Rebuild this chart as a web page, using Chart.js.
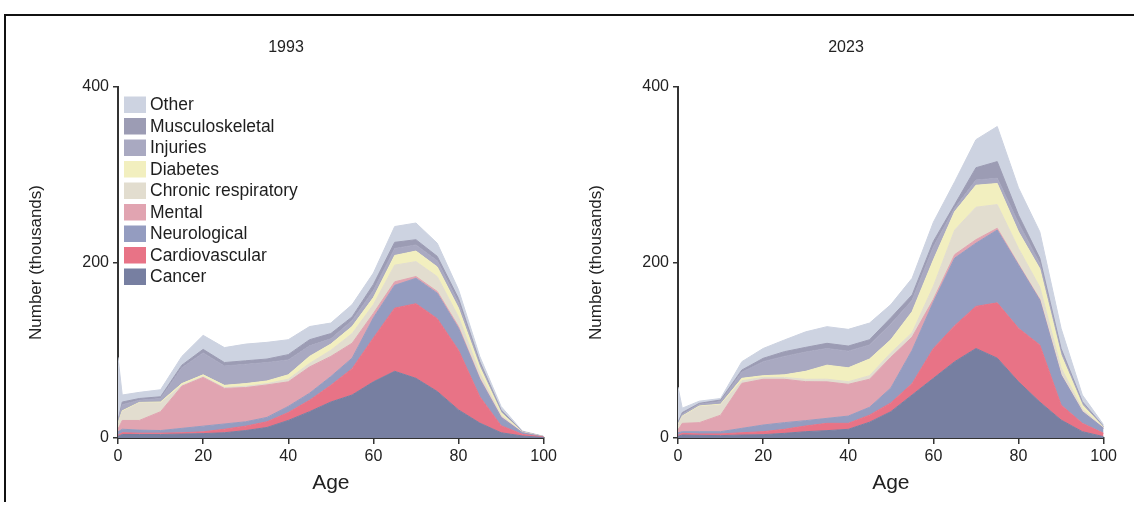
<!DOCTYPE html>
<html><head><meta charset="utf-8">
<script src="https://cdn.jsdelivr.net/npm/chart.js@4.4.1/dist/chart.umd.min.js"></script>
<style>
html,body{margin:0;padding:0;background:#fff;width:1134px;height:505px;overflow:hidden;}
#frame{position:absolute;left:4px;top:14px;width:1130px;height:486px;border-top:2px solid #111;border-left:2px solid #111;}
.wrap{position:absolute;top:25px;width:534px;height:480px;}
</style></head><body>
<div id="frame"></div>
<div class="wrap" style="left:26px"><canvas id="c1" width="534" height="480"></canvas></div>
<div class="wrap" style="left:586px"><canvas id="c2" width="534" height="480"></canvas></div>
<script>
const ages = [0,1,5,10,15,20,25,30,35,40,45,50,55,60,65,70,75,80,85,90,95,100];
const seriesNames = ['Cancer','Cardiovascular','Neurological','Mental','Chronic respiratory','Diabetes','Injuries','Musculoskeletal','Other'];
const seriesColors = ['#777fa1','#e87386','#949cc0','#e1a4b1','#e2ddcf','#f2efbf','#a9a9c1','#9c9cb4','#cdd3e1'];
const xTicks = [0,20,40,60,80,100];
const yTicks = [0,200,400];
const panelTitles = ['1993','2023'];

// 1993 (thousands)
const cancer1993   = [2,4,4,4,4.5,5,6,8.5,12,20,30,41,49,64,76,68,53,32,17,6,2.3,0.5];
const cardio1993   = [1,2,1.5,1.5,1.5,2,4,5,6.5,9,13,19,30,50,72,85,83,68,30,8,1.9,0.5];
const neuro1993    = [4,4,3.5,3,5,6.5,6,5,5,7,8,10,12,23,26,29,29,25,20,9.5,1.8,0.2];
const mental1993   = [3,10,11,21.5,48,55.5,40.5,39,37,28,30,23,17,5,4,2,2,2,1,0.5,0.2,0.1];
const chronic1993  = [6,10,20,10,1,1,1,1.5,1.5,3,4,7,11,10,19,17,17,11,6,2,0.3,0.1];
const diabetes1993 = [0.5,1,0.5,1,2,2,2.5,3,3,5,8,7,8,8,11,12,11,10,7,3,0.3,0.1];
const injuries1993 = [2.5,7,2.5,4,18,25,22,22,21,17,12,6,7,8,8,7,7,6,3,1.5,0.2,0.1];
const musculo1993  = [1,3,2,2,3,4,4,4,4,6,7,6,4,7,7,6,5,5,3,1.5,0.2,0.1];
const other1993    = [72,8,7,8,10,16,17,19,19,17,15,12,14,13,18,19,15,10,6,4,0.8,0.3];

// 2023 (thousands)
const cancer2023   = [2,3.4,3,2.7,3.4,3.8,5.3,7.2,8.4,9.9,18,30,49,68,87,102,91,64,41,20.5,7.2,1.5];
const cardio2023   = [1,1.9,1.6,1.9,2.6,3.4,4.6,6.5,8.3,6.8,8,10,13,34,41,48,63,61,65,17.1,9.5,3.8];
const neuro2023    = [3,1.9,2.6,2.6,5,7.6,7.6,6.1,5.7,8.3,9,17,38,53,77,72,83,72,51,34.2,13.3,5.7];
const mental2023   = [3,9.5,10.3,18.8,51.3,52.1,49.4,44.4,41.6,36.2,32,35,15,3,4,4,2,1,1,0.2,0.2,0.1];
const chronic2023  = [6,7.6,18.2,11.6,3,2.1,2.1,2.7,3,3,4,5,5,15,28,37,27,18,14,8,2.8,0.4];
const diabetes2023 = [0.5,0.7,0.8,0.9,2.7,2,3,9.1,16,15.8,19,15,24,30,21,25,24,19,21,14.6,4.6,0.5];
const injuries2023 = [1.5,2,2,3,7,16,21,22,19,19,16,18,13,15,4,6,6,10,6,3.4,1.9,0.5];
const musculo2023  = [1,2,1,1.8,2.5,3.8,5.4,5.3,5.9,5.8,6,7,6,6,4,14,19,9,6,4,1.9,0.5];
const other2023    = [40,5,2.5,1.7,9.5,11.2,13.3,17.7,19,19,19,15,19,22,26,32,40,31,30,23,7.6,2];

const values1993 = [cancer1993,cardio1993,neuro1993,mental1993,chronic1993,diabetes1993,injuries1993,musculo1993,other1993];
const values2023 = [cancer2023,cardio2023,neuro2023,mental2023,chronic2023,diabetes2023,injuries2023,musculo2023,other2023];

const FONT = "'Liberation Sans', Arial, Helvetica, sans-serif";
Chart.defaults.font.family = FONT;
Chart.defaults.color = '#222';

// legend drawn inside the plot area (top-left), top entry = top layer
const insideLegend = {
  id: 'insideLegend',
  afterDatasetsDraw(chart, args, opts) {
    if (!opts || !opts.display) return;
    const ctx = chart.ctx, ca = chart.chartArea;
    const items = chart.data.datasets.map(d => ({label: d.label, color: d.backgroundColor})).reverse();
    ctx.save();
    ctx.font = opts.fontSize + 'px ' + FONT;
    ctx.textBaseline = 'middle';
    ctx.textAlign = 'left';
    items.forEach((it, k) => {
      const y = ca.top + opts.offsetY + k * opts.rowHeight;
      ctx.fillStyle = it.color;
      ctx.fillRect(ca.left + opts.offsetX, y, opts.boxWidth, opts.boxHeight);
      ctx.fillStyle = '#1e1e1e';
      ctx.fillText(it.label, ca.left + opts.offsetX + opts.boxWidth + opts.gap, y + opts.boxHeight / 2 + 0.5);
    });
    ctx.restore();
  }
};

function makeDatasets(values){
  return seriesNames.map((name,i)=>({
    label: name,
    data: ages.map((a,j)=>({x:a, y:values[i][j]})),
    backgroundColor: seriesColors[i],
    borderColor: seriesColors[i],
    borderWidth: 1,
    pointRadius: 0,
    tension: 0,
    fill: i===0 ? 'origin' : '-1'
  }));
}

function makeChart(id, values, title, showLegend){
  return new Chart(document.getElementById(id), {
    type: 'line',
    data: { datasets: makeDatasets(values) },
    plugins: [insideLegend],
    options: {
      responsive: false,
      animation: false,
      layout: { padding: {left:0, right:14, top:0, bottom:0} },
      plugins: {
        title: { display: true, text: title, font: {size: 16, weight: 'normal'}, color: '#222', padding: {top: 12.6, bottom: 30.2} },
        legend: { display: false },
        insideLegend: { display: showLegend, offsetX: 6, offsetY: 9.5, rowHeight: 21.5, boxWidth: 22, boxHeight: 16.5, gap: 4, fontSize: 17.5 },
        tooltip: { enabled: false }
      },
      scales: {
        x: {
          type: 'linear', min: 0, max: 100,
          afterBuildTicks: (s) => { s.ticks = xTicks.map(v => ({value: v})); },
          ticks: { font: {size: 16}, color: '#222', padding: 3, maxRotation: 0 },
          grid: { drawOnChartArea: false, drawTicks: true, tickLength: 6, color: '#333', lineWidth: 1.5 },
          border: { display: true, color: '#333', width: 2 },
          title: { display: true, text: 'Age', font: {size: 21}, color: '#222', padding: {top: 0, bottom: 9} },
          afterFit: (s) => { s.height = 67; }
        },
        y: {
          stacked: true, min: 0, max: 400,
          afterBuildTicks: (s) => { s.ticks = yTicks.map(v => ({value: v})); },
          ticks: { font: {size: 16}, color: '#222', padding: 4 },
          grid: { drawOnChartArea: false, drawTicks: true, tickLength: 5, color: '#333', lineWidth: 1.5 },
          border: { display: true, color: '#333', width: 2 },
          title: { display: true, text: 'Number (thousands)', font: {size: 17}, color: '#222', padding: 0 },
          afterFit: (s) => { s.width = 92; }
        }
      }
    }
  });
}

makeChart('c1', values1993, panelTitles[0], true);
makeChart('c2', values2023, panelTitles[1], false);
</script>
</body></html>
